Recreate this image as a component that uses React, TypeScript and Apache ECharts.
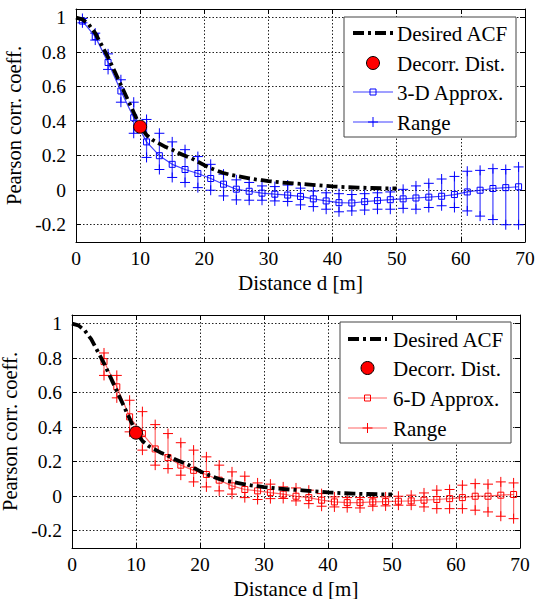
import React, { useEffect, useRef } from "react";
import * as echarts from "echarts";

// Desired ACF
const ACF_D = [0,1,2,3,4,5,6,7,8,9,10,11,12,13,14,15,16,17,18,19,20,21,22,23,24,25,26,27,28,29,30,32,34,36,38,40,42,44,46,48,50];
const ACF_V = [1.0,0.99,0.96,0.91,0.84,0.77,0.69,0.61,0.53,0.45,0.37,0.32,0.29,0.27,0.25,0.235,0.215,0.2,0.185,0.165,0.145,0.127,0.113,0.1,0.09,0.083,0.076,0.069,0.063,0.058,0.053,0.045,0.039,0.034,0.028,0.022,0.018,0.015,0.013,0.011,0.01];

const DECORR = [10, 0.368];

// 3-D approximation (top)
const D3 = [1,3,5,7,9,11,13,15,17,19,21,23,25,27,29,31,33,35,37,39,41,43,45,47,49,51,53,55,57,59,61,63,65,67,69];
const M3 = [0.98,0.89,0.74,0.575,0.42,0.28,0.2,0.15,0.12,0.097,0.068,0.035,0.006,-0.006,-0.017,-0.023,-0.028,-0.036,-0.05,-0.062,-0.072,-0.074,-0.066,-0.06,-0.055,-0.05,-0.045,-0.04,-0.035,-0.025,-0.01,0.0,0.01,0.015,0.02];
const LO3 = [0.97,0.87,0.7,0.51,0.33,0.19,0.12,0.074,0.045,0.015,0.0,-0.033,-0.056,-0.058,-0.058,-0.062,-0.065,-0.085,-0.095,-0.11,-0.125,-0.12,-0.115,-0.11,-0.11,-0.105,-0.11,-0.1,-0.09,-0.1,-0.12,-0.15,-0.17,-0.2,-0.2];
const HI3 = [0.995,0.91,0.79,0.64,0.51,0.41,0.33,0.28,0.235,0.195,0.15,0.093,0.06,0.045,0.025,0.021,0.03,0.012,-0.005,-0.015,-0.02,-0.025,-0.02,-0.015,-0.01,0.005,0.025,0.04,0.065,0.08,0.11,0.115,0.125,0.12,0.135];

// 6-D approximation (bottom)
const D6 = [5,7,9,11,13,15,17,19,21,23,25,27,29,31,33,35,37,39,41,43,45,47,49,51,53,55,57,59,61,63,65,67,69];
const M6 = [0.78,0.634,0.46,0.363,0.274,0.224,0.18,0.15,0.126,0.093,0.06,0.039,0.031,0.021,0.012,0.0,-0.008,-0.023,-0.033,-0.037,-0.037,-0.033,-0.031,-0.029,-0.027,-0.023,-0.019,-0.014,-0.008,0.0,0.0,0.006,0.01];
const LO6 = [0.7,0.57,0.373,0.267,0.18,0.16,0.122,0.083,0.054,0.031,0.012,-0.008,-0.019,-0.014,-0.013,-0.027,-0.043,-0.058,-0.062,-0.066,-0.068,-0.058,-0.056,-0.052,-0.052,-0.062,-0.072,-0.072,-0.072,-0.081,-0.091,-0.116,-0.13];
const HI6 = [0.83,0.7,0.556,0.49,0.415,0.363,0.31,0.267,0.228,0.18,0.141,0.116,0.077,0.07,0.054,0.048,0.035,0.015,-0.004,-0.008,-0.008,-0.008,-0.004,0.0,0.006,0.019,0.035,0.039,0.064,0.073,0.07,0.083,0.077];

const Y_TICKS = [-0.2, 0, 0.2, 0.4, 0.6, 0.8, 1];
const X_LABEL = "Distance d [m]";
const Y_LABEL = "Pearson corr. coeff.";
const LEGEND_TOP = ["Desired ACF", "Decorr. Dist.", "3-D Approx.", "Range"];
const LEGEND_BOT = ["Desired ACF", "Decorr. Dist.", "6-D Approx.", "Range"];

const FONT = "'Liberation Serif', 'Times New Roman', serif";
const BLUE = "#0000ff";
const BLUE_L = "rgba(0,0,255,0.75)";
const RED = "#ff0000";
const RED_L = "rgba(255,0,0,0.6)";
const DASHDOT = [11, 4, 3, 4];

function App() {
  const ref = useRef<HTMLDivElement>(null);
  useEffect(() => {
    if (!ref.current) return;
    const chart = echarts.init(ref.current, undefined, { renderer: "svg" });

    const grids = [
      { left: 76, top: 9, width: 449, height: 233, outerBoundsMode: "none", containLabel: false },
      { left: 72, top: 315, width: 448, height: 233, outerBoundsMode: "none", containLabel: false },
    ];
    const yNameGaps = [42, 36];

    const gridLine = { show: true, lineStyle: { color: "#222", type: [1.5, 2], width: 1 } };
    const axisLine = { show: true, onZero: false, lineStyle: { color: "#000", width: 1 } };
    const tick = { show: true, inside: true, length: 5, lineStyle: { color: "#000" } };

    const xAxes: any[] = [];
    const yAxes: any[] = [];
    [0, 1].forEach((g) => {
      xAxes.push({
        type: "value", gridIndex: g, min: 0, max: 70, interval: 10, position: "bottom",
        axisLine, axisTick: tick, splitLine: gridLine,
        axisLabel: { color: "#000", fontSize: 19.5, fontFamily: FONT, margin: 6 },
        name: X_LABEL, nameLocation: "middle", nameGap: 30,
        nameTextStyle: { color: "#000", fontSize: 21, fontFamily: FONT },
      });
      xAxes.push({
        type: "value", gridIndex: g, min: 0, max: 70, interval: 10, position: "top",
        axisLine, axisTick: tick, splitLine: { show: false }, axisLabel: { show: false },
      });
      yAxes.push({
        type: "value", gridIndex: g, min: -0.3, max: 1.05, position: "left",
        axisLine, axisTick: { ...tick, customValues: Y_TICKS }, splitLine: gridLine,
        axisLabel: {
          color: "#000", fontSize: 19.5, fontFamily: FONT, margin: 10, customValues: Y_TICKS,
          formatter: (v: number) => String(Math.round(v * 10) / 10),
        },
        name: Y_LABEL, nameLocation: "middle", nameGap: yNameGaps[g],
        nameTextStyle: { color: "#000", fontSize: 20.5, fontFamily: FONT },
      });
      yAxes.push({
        type: "value", gridIndex: g, min: -0.3, max: 1.05, position: "right",
        axisLine, axisTick: { ...tick, customValues: Y_TICKS }, splitLine: { show: false },
        axisLabel: { show: false, customValues: Y_TICKS },
      });
    });

    const rangeSeries = (xi: number, yi: number, D: number[], LO: number[], HI: number[], solid: string, light: string) => ({
      type: "custom", xAxisIndex: xi, yAxisIndex: yi, z: 2,
      encode: { x: 0, y: [1, 2] },
      data: D.map((d, i) => [d, LO[i], HI[i]]),
      renderItem: (_p: any, api: any) => {
        const x = api.value(0), lo = api.value(1), hi = api.value(2);
        const a = api.coord([x, lo]);
        const b = api.coord([x, hi]);
        const h = 5;
        const st = { stroke: solid, lineWidth: 1 };
        const plus = (p: number[]) => [
          { type: "line", shape: { x1: p[0] - h, y1: p[1], x2: p[0] + h, y2: p[1] }, style: st },
          { type: "line", shape: { x1: p[0], y1: p[1] - h, x2: p[0], y2: p[1] + h }, style: st },
        ];
        return {
          type: "group",
          children: [
            { type: "line", shape: { x1: a[0], y1: a[1], x2: b[0], y2: b[1] }, style: { stroke: light, lineWidth: 1.2 } },
            ...plus(a), ...plus(b),
          ],
        };
      },
    });

    const approxSeries = (xi: number, yi: number, D: number[], M: number[], solid: string, light: string) => ({
      type: "line", xAxisIndex: xi, yAxisIndex: yi, z: 3,
      data: D.map((d, i) => [d, M[i]]),
      symbol: "rect", symbolSize: 6, showSymbol: true,
      itemStyle: { color: "rgba(0,0,0,0)", borderColor: solid, borderWidth: 1 },
      lineStyle: { color: light, width: 1.2 },
    });

    const acfSeries = (xi: number, yi: number) => ({
      type: "line", xAxisIndex: xi, yAxisIndex: yi, z: 4,
      data: ACF_D.map((d, i) => [d, ACF_V[i]]),
      showSymbol: false, symbol: "none",
      lineStyle: { color: "#000", width: 3.8, type: DASHDOT },
    });

    const decorrSeries = (xi: number, yi: number) => ({
      type: "scatter", xAxisIndex: xi, yAxisIndex: yi, z: 5,
      data: [DECORR],
      symbol: "circle", symbolSize: 13,
      itemStyle: { color: RED, borderColor: "#000", borderWidth: 1, opacity: 1 },
    });

    const legend = (left: number, top: number, w: number, h: number, iconL: number, iconR: number, textX: number, rows: number[], labels: string[], solid: string, light: string) => {
      const cx = (iconL + iconR) / 2;
      const txt = (s: string, y: number) => ({
        type: "text", z: 100, style: { text: s, x: textX, y, fill: "#000", fontSize: 21, fontFamily: FONT, verticalAlign: "middle" },
      });
      const st = { stroke: solid, lineWidth: 1 };
      return [
        { type: "rect", z: 99, shape: { x: left, y: top, width: w, height: h }, style: { fill: "#fff", stroke: "#444", lineWidth: 1 } },
        { type: "line", z: 100, shape: { x1: iconL, y1: rows[0], x2: iconR, y2: rows[0] }, style: { stroke: "#000", lineWidth: 3.8, lineDash: DASHDOT } },
        txt(labels[0], rows[0] + 1),
        { type: "circle", z: 100, shape: { cx, cy: rows[1], r: 6.5 }, style: { fill: RED, stroke: "#000", lineWidth: 1 } },
        txt(labels[1], rows[1] + 1),
        { type: "line", z: 100, shape: { x1: iconL, y1: rows[2], x2: iconR, y2: rows[2] }, style: { stroke: light, lineWidth: 1.2 } },
        { type: "rect", z: 101, shape: { x: cx - 3, y: rows[2] - 3, width: 6, height: 6 }, style: { fill: "none", stroke: solid, lineWidth: 1 } },
        txt(labels[2], rows[2] + 1),
        { type: "line", z: 100, shape: { x1: iconL, y1: rows[3], x2: iconR, y2: rows[3] }, style: { stroke: light, lineWidth: 1.2 } },
        { type: "line", z: 101, shape: { x1: cx - 5, y1: rows[3], x2: cx + 5, y2: rows[3] }, style: st },
        { type: "line", z: 101, shape: { x1: cx, y1: rows[3] - 5, x2: cx, y2: rows[3] + 5 }, style: st },
        txt(labels[3], rows[3] + 1),
      ];
    };

    chart.setOption({
      animation: false,
      textStyle: { fontFamily: FONT },
      grid: grids,
      xAxis: xAxes,
      yAxis: yAxes,
      series: [
        rangeSeries(0, 0, D3, LO3, HI3, BLUE, BLUE_L),
        approxSeries(0, 0, D3, M3, BLUE, BLUE_L),
        acfSeries(0, 0),
        decorrSeries(0, 0),
        rangeSeries(2, 2, D6, LO6, HI6, RED, RED_L),
        approxSeries(2, 2, D6, M6, RED, RED_L),
        acfSeries(2, 2),
        decorrSeries(2, 2),
      ],
      graphic: [
        ...legend(344, 17, 172, 120, 353, 393, 397, [33, 63, 92, 122], LEGEND_TOP, BLUE, BLUE_L),
        ...legend(340, 322, 171, 121, 348, 387, 393, [339, 368, 398, 428], LEGEND_BOT, RED, RED_L),
      ],
    });
    return () => chart.dispose();
  }, []);
  return <div ref={ref} style={{ position: "fixed", left: 0, top: 0, width: 535, height: 599, background: "#fff" }} />;
}

export default App;
